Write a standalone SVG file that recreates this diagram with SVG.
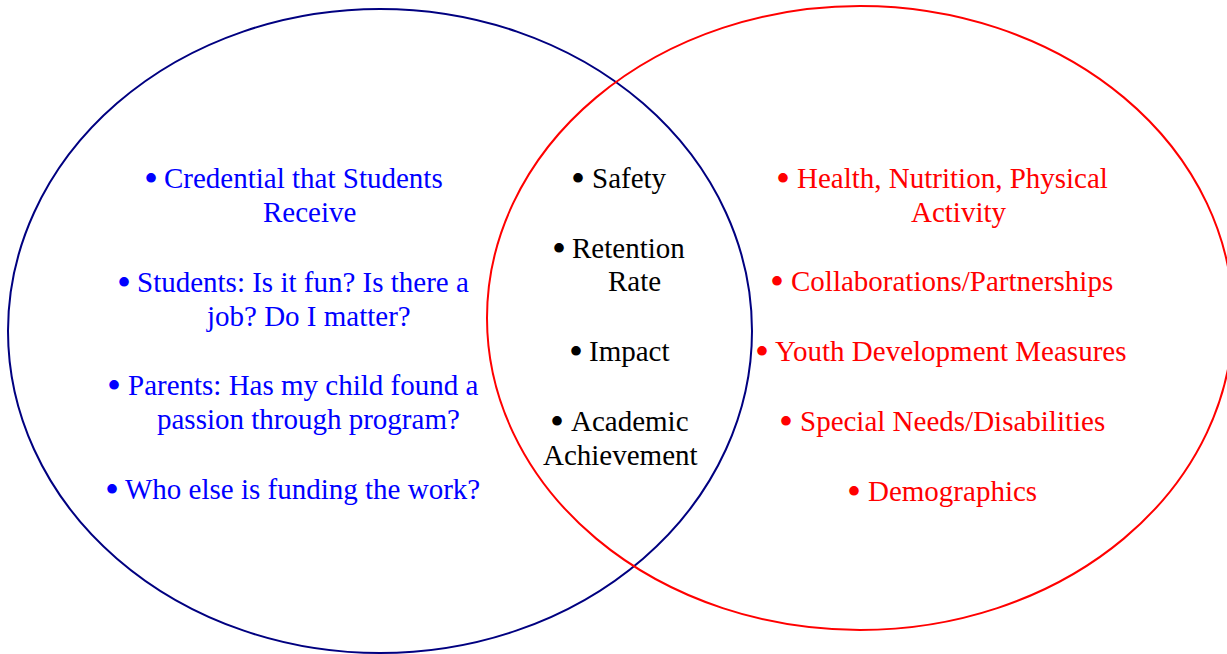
<svg xmlns="http://www.w3.org/2000/svg" width="1227" height="654" viewBox="0 0 1227 654">
<style>
.t{font-family:"Liberation Serif","Times New Roman",serif;font-size:29px}
.b{font-size:40px}
.l{fill:#0000FF}
.m{fill:#000000}
.r{fill:#FF0000}
.ring{fill:none;stroke-width:2}
</style>
<rect width="1227" height="654" fill="#ffffff"/>
<g id="left-circle">
<ellipse class="ring" cx="380" cy="331" rx="372" ry="322" stroke="#000080"/>
<text class="t l"><tspan class="b" x="144" y="192">•</tspan><tspan x="164" y="188">Credential that Students</tspan><tspan x="263" y="222">Receive</tspan></text>
<text class="t l"><tspan class="b" x="117" y="296">•</tspan><tspan x="137" y="292">Students: Is it fun? Is there a</tspan><tspan x="207" y="326">job? Do I matter?</tspan></text>
<text class="t l"><tspan class="b" x="107" y="399">•</tspan><tspan x="128" y="395">Parents: Has my child found a</tspan><tspan x="157" y="429">passion through program?</tspan></text>
<text class="t l"><tspan class="b" x="105" y="503">•</tspan><tspan x="125" y="499">Who else is funding the work?</tspan></text>
</g>
<g id="right-circle">
<ellipse class="ring" cx="860" cy="318" rx="373" ry="312" stroke="#FF0000"/>
<text class="t r"><tspan class="b" x="776" y="192">•</tspan><tspan x="797" y="188">Health, Nutrition, Physical</tspan><tspan x="911" y="222">Activity</tspan></text>
<text class="t r"><tspan class="b" x="770" y="295">•</tspan><tspan x="791" y="291">Collaborations/Partnerships</tspan></text>
<text class="t r"><tspan class="b" x="755" y="365">•</tspan><tspan x="775" y="361">Youth Development Measures</tspan></text>
<text class="t r"><tspan class="b" x="779" y="435">•</tspan><tspan x="800" y="431">Special Needs/Disabilities</tspan></text>
<text class="t r"><tspan class="b" x="847" y="505">•</tspan><tspan x="868" y="501">Demographics</tspan></text>
</g>
<g id="overlap">
<text class="t m"><tspan class="b" x="571" y="192">•</tspan><tspan x="592" y="188">Safety</tspan></text>
<text class="t m"><tspan class="b" x="552" y="262">•</tspan><tspan x="572" y="258">Retention</tspan><tspan x="608" y="291">Rate</tspan></text>
<text class="t m"><tspan class="b" x="569" y="365">•</tspan><tspan x="589" y="361">Impact</tspan></text>
<text class="t m"><tspan class="b" x="550" y="435">•</tspan><tspan x="571" y="431">Academic</tspan><tspan x="543" y="465">Achievement</tspan></text>
</g>
<g id="connectors"/>
</svg>
